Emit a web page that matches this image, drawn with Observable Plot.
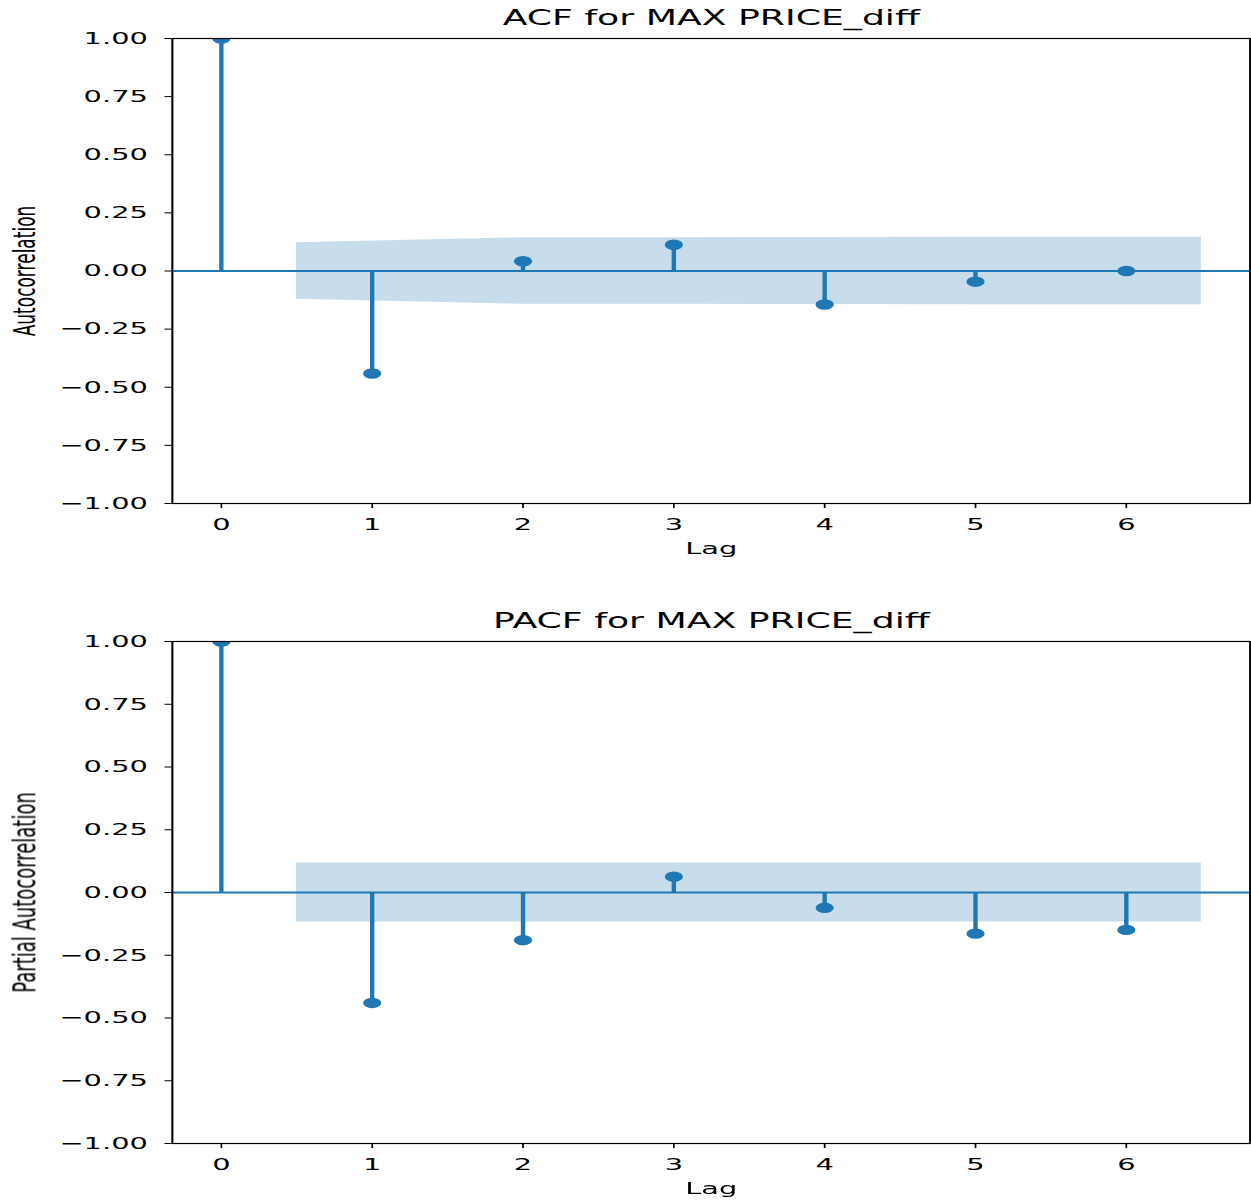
<!DOCTYPE html>
<html>
<head>
<meta charset="utf-8">
<script src="https://cdn.jsdelivr.net/npm/d3@7"></script>
<script src="https://cdn.jsdelivr.net/npm/@observablehq/plot@0.6"></script>
<style>
  html, body { margin: 0; padding: 0; background: #fff; }
  #wrap { width: 715px; transform: scaleX(1.7497); transform-origin: 0 0; }
  #wrap svg { display: block; }
</style>
</head>
<body>
<div id="wrap"></div>
<script>
// ---- data ----
const lags = [0, 1, 2, 3, 4, 5, 6];
const acfValues = [1.0, -0.441, 0.042, 0.113, -0.144, -0.046, 0.0];
const pacfValues = [1.0, -0.440, -0.190, 0.063, -0.061, -0.164, -0.149];
// confidence band (half-widths), drawn between lag 0.5 and lag 6.5
const acfBandLags = [0.5, 2, 3, 4, 5, 6.5];
const acfBandHalf = [0.121, 0.143, 0.143, 0.144, 0.145, 0.145];
const pacfBandLags = [0.5, 6.5];
const pacfBandHalf = [0.118, 0.118];
const yTicks = [-1, -0.75, -0.5, -0.25, 0, 0.25, 0.5, 0.75, 1];
const xTicks = [0, 1, 2, 3, 4, 5, 6];
const titles = ["ACF for MAX PRICE_diff", "PACF for MAX PRICE_diff"];
const yLabels = ["Autocorrelation", "Partial Autocorrelation"];
const xLabel = "Lag";

const C0 = "#1f77b4";

function stemChart({values, bandLags, bandHalf, title, ylabel, ylabelSize, height, marginTop, marginBottom}) {
  const pts = lags.map((l, i) => ({lag: l, value: values[i]}));
  const band = bandLags.map((l, i) => ({lag: l, lo: -bandHalf[i], hi: bandHalf[i]}));
  return Plot.plot({
    width: 715,
    height,
    marginLeft: 98,
    marginRight: 1,
    marginTop,
    marginBottom,
    style: {fontFamily: "DejaVu Sans", fontSize: "16.5px", color: "#000", background: "#fff", overflow: "visible"},
    x: {domain: [-0.325, 6.821], ticks: xTicks, tickFormat: d3.format("d"), tickSize: 5, tickPadding: 10, label: null},
    y: {domain: [-1, 1], ticks: yTicks, tickFormat: d3.format(".2f"), tickSize: 4, tickPadding: 10, label: null},
    marks: [
      Plot.areaY(band, {x: "lag", y1: "lo", y2: "hi", fill: C0, fillOpacity: 0.25}),
      Plot.ruleY([0], {stroke: C0, strokeWidth: 2}),
      Plot.ruleX(pts, {x: "lag", y1: 0, y2: "value", stroke: C0, strokeWidth: 2.5}),
      Plot.dot(pts, {x: "lag", y: "value", r: 5.2, fill: C0, stroke: "none", clip: true}),
      Plot.frame({stroke: "#000", strokeWidth: 1.2}),
      Plot.text([title], {frameAnchor: "top", dy: -20, fontSize: 20.7, lineAnchor: "middle"}),
      Plot.text([xLabel], {frameAnchor: "bottom", dy: 45, fontSize: 16.5, lineAnchor: "middle"}),
      Plot.text([ylabel], {frameAnchor: "left", dx: -84, rotate: -90, fontSize: ylabelSize, textAnchor: "middle", lineAnchor: "middle"})
    ]
  });
}

const wrap = document.getElementById("wrap");
wrap.append(stemChart({
  values: acfValues, bandLags: acfBandLags, bandHalf: acfBandHalf,
  title: titles[0], ylabel: yLabels[0], ylabelSize: 17,
  height: 601, marginTop: 38, marginBottom: 98
}));
wrap.append(stemChart({
  values: pacfValues, bandLags: pacfBandLags, bandHalf: pacfBandHalf,
  title: titles[1], ylabel: yLabels[1], ylabelSize: 18,
  height: 601, marginTop: 40, marginBottom: 59
}));
</script>
</body>
</html>
